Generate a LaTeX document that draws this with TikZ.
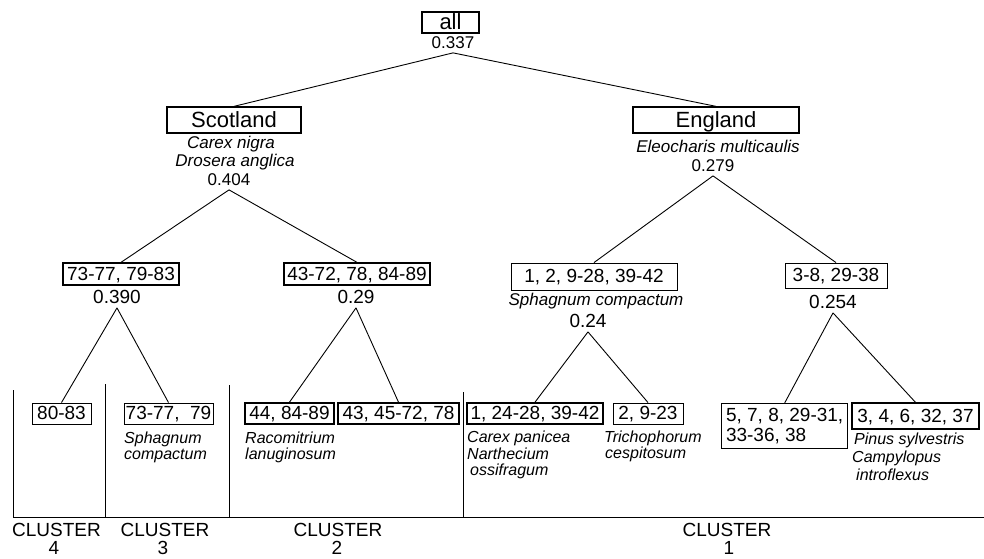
\documentclass[tikz,border=0pt]{standalone}
\usepackage{fontspec}
\setmainfont{Liberation Sans}
\begin{document}
\begin{tikzpicture}[x=1pt,y=-1pt,
  every node/.style={inner sep=0pt},
  bigf/.style={font=\fontsize{22}{26}\selectfont},
  midf/.style={font=\fontsize{19}{20}\selectfont},
  numf/.style={font=\fontsize{17}{17}\selectfont},
  box/.style={draw, line width=0.9pt},
  heavy/.style={line width=1.7pt},
  medium/.style={line width=1.3pt},
  bigbox/.style={box, bigf, text height=14pt, text depth=0pt},
  midbox/.style={box, midf, text height=12pt, text depth=0pt},
  num/.style={anchor=base, inner ysep=4.5pt},
  sp/.style={font=\fontsize{17}{17}\selectfont\itshape, anchor=base},
  spl/.style={font=\fontsize{16}{16}\selectfont\itshape, anchor=base west},
  link/.style={line width=0.9pt},
  rule/.style={line width=1pt},
  clu/.style={font=\fontsize{19}{20}\selectfont, anchor=base}
]
\useasboundingbox (0,0) rectangle (984,558);
\clip (0,0) rectangle (984,558);
\fill[white] (0,0) rectangle (984,558);

% level 0
\node[bigbox, medium, minimum width=57pt, minimum height=21pt] (all) at (450.5,22.5) {all};
\node[num, numf] (n0) at (453,48) {0.337};

% level 1
\node[bigbox, medium, minimum width=134pt, minimum height=26pt] (scot) at (234,120) {Scotland};
\node[sp] (s1) at (231,148) {Carex nigra};
\node[sp] (s2) at (235,166) {Drosera anglica};
\node[num, numf] (ns) at (229,185) {0.404};

\node[bigbox, medium, minimum width=166pt, minimum height=26pt] (eng) at (716,120) {England};
\node[sp] (e1) at (718,152) {Eleocharis multicaulis};
\node[num, numf] (ne) at (713,171) {0.279};

% level 2
\node[midbox, medium, minimum width=116pt, minimum height=22pt] (b1) at (121,274) {73-77, 79-83};
\node[num, midf] (n1) at (117,303) {0.390};

\node[midbox, medium, minimum width=146pt, minimum height=22pt] (b2) at (357,274) {43-72, 78, 84-89};
\node[num, midf] (n2) at (356,303) {0.29};

\node[midbox, minimum width=166pt, minimum height=27pt] (b3) at (594,276.5) {1, 2, 9-28, 39-42};
\node[sp] (c3) at (596,305) {Sphagnum compactum};
\node[num, midf] (n3) at (588,327) {0.24};

\node[midbox, minimum width=102pt, minimum height=25pt] (b4) at (836,275.5) {3-8, 29-38};
\node[num, midf] (n4) at (833,308) {0.254};

% leaves
\node[midbox, minimum width=59pt, minimum height=21pt] (l1) at (61.5,413.5) {80-83};
\node[midbox, minimum width=89pt, minimum height=21pt] (l2) at (168.5,413.5) {73-77,\ \ 79};
\node[spl] (l2a) at (124,443) {Sphagnum};
\node[spl] (l2b) at (124,459) {compactum};

\node[midbox, heavy, minimum width=89pt, minimum height=21pt] (l3) at (289.5,413.5) {44, 84-89};
\node[spl] (l3a) at (245,443) {Racomitrium};
\node[spl] (l3b) at (245,459) {lanuginosum};

\node[midbox, heavy, minimum width=121pt, minimum height=21pt] (l4) at (398.5,413.5) {43, 45-72, 78};

\node[midbox, heavy, minimum width=136pt, minimum height=21pt] (l5) at (535,413.5) {1, 24-28, 39-42};
\node[spl] (l5a) at (467,442) {Carex panicea};
\node[spl] (l5b) at (467,459) {Narthecium};
\node[spl] (l5c) at (470,475) {ossifragum};

\node[midbox, minimum width=70pt, minimum height=21pt] (l6) at (648,413.5) {2, 9-23};
\node[spl] (l6a) at (604,442) {Trichophorum};
\node[spl] (l6b) at (605,458) {cespitosum};

\node[box, midf, medium, align=left, anchor=north west, minimum width=126pt, minimum height=45pt, inner xsep=2pt] (l7) at (721,403) {5, 7, 8, 29-31,\\33-36, 38};

\node[midbox, medium, minimum width=127pt, minimum height=26pt] (l8) at (915.5,416) {3, 4, 6, 32, 37};
\node[spl] (l8a) at (854,444) {Pinus sylvestris};
\node[spl] (l8b) at (852,462) {Campylopus};
\node[spl] (l8c) at (856,480) {introflexus};

% connectors
\draw[link] (n0.south) -- (scot.north);
\draw[link] (n0.south) -- (eng.north);
\draw[link] (ns.south) -- (b1.north);
\draw[link] (ns.south) -- (b2.north);
\draw[link] (ne.south) -- (b3.north);
\draw[link] (ne.south) -- (b4.north);
\draw[link] (n1.south) -- (l1.north);
\draw[link] (n1.south) -- (l2.north);
\draw[link] (n2.south) -- (l3.north);
\draw[link] (n2.south) -- (l4.north);
\draw[link] (n3.south) -- (l5.north);
\draw[link] (n3.south) -- (l6.north);
\draw[link] (n4.south) -- (l7.north);
\draw[link] (n4.south) -- (l8.north);

% cluster dividers
\draw[rule] (13,390) -- (13,517) -- (984,517);
\draw[rule] (105,384) -- (105,517);
\draw[rule] (229,385) -- (229,517);
\draw[rule] (463,392) -- (463,517);

% cluster labels
\node[clu] (k4) at (56.5,536) {CLUSTER};
\node[clu] (d4) at (54,554) {4};
\node[clu] (k3) at (165,536) {CLUSTER};
\node[clu] (d3) at (163,554) {3};
\node[clu] (k2) at (338,536) {CLUSTER};
\node[clu] (d2) at (337,554) {2};
\node[clu] (k1) at (727,536) {CLUSTER};
\node[clu] (d1) at (729,554) {1};
\end{tikzpicture}
\end{document}
